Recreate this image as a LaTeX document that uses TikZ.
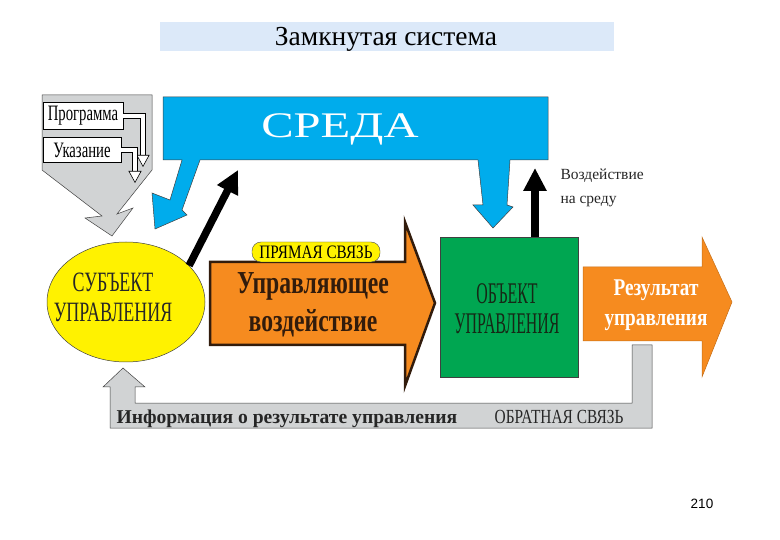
\documentclass[tikz,border=0pt]{standalone}
\usepackage{fontspec}
\setmainfont{Liberation Serif}
\newfontfamily\pagefont{Liberation Sans}
\usepackage{graphicx}
\usepackage{xcolor}
\usetikzlibrary{calc,shapes,positioning,arrows.meta}
\definecolor{sredablue}{RGB}{0,172,236}
\definecolor{subjyellow}{RGB}{255,242,0}
\definecolor{objgreen}{RGB}{0,166,81}
\definecolor{actorange}{RGB}{246,139,31}
\definecolor{fbgrey}{RGB}{209,211,212}
\definecolor{titleband}{RGB}{220,233,249}
\definecolor{darkbrown}{RGB}{50,28,12}
\definecolor{darkgreen}{RGB}{22,40,22}
\newcommand{\narrow}[2]{\scalebox{#1}[1]{#2}}
\tikzset{Outline/.style={draw=black!75,line width=0.5pt},
  FatArrow/.style={line width=7.5pt,-{Triangle[length=23pt,width=22pt]}},
  WhiteArrow/.style={draw=black,line width=0.6pt,double=white,double distance=4.5pt,-{Triangle[length=12pt,width=13pt,fill=white]}},
  WhiteBox/.style={fill=white,draw=black,line width=0.5pt,inner sep=0pt,font=\fontsize{22}{24}\selectfont}}

\begin{document}
\begin{tikzpicture}[x=1pt,y=-1pt]
            \useasboundingbox (0,0) rectangle (780,540);
            \fill[titleband] (160,22) rectangle (614,51);
            \node[font=\fontsize{27.5}{29}\selectfont] (title) at (386,39) {Замкнутая система};
            \filldraw[fill=fbgrey,Outline] (42,95) -- (152,95) -- (152,170) -- (117,214) -- (133,208) -- (112,236) -- (85,218) -- (102,216) -- (42,170) -- cycle;
            \node[WhiteBox,minimum width=80,minimum height=27] (prog) at (83,116) {\narrow{0.67}{Программа}};
            \node[WhiteBox,minimum width=78,minimum height=25] (ukaz) at (82,150) {\narrow{0.67}{Указание}};
            \coordinate (progtip) at (143,167);
            \coordinate (ukaztip) at (135,183);
            \draw[WhiteArrow] (prog.east) -| (progtip);
            \draw[WhiteArrow] (ukaz.east) -| (ukaztip);
            \filldraw[fill=sredablue,Outline] (163,97) -- (548,97) -- (548,160) -- (510,160) -- (507,205) -- (513,207) -- (493,228) -- (473,205) -- (483,205) -- (478,160) -- (200,160) -- (182,210) -- (187,215) -- (155,229) -- (152,193) -- (170,200) -- (182,160) -- (163,160) -- cycle;
            \node[text=white,font=\fontsize{36}{38}\selectfont,xscale=1.35] (sreda) at (340,129) {СРЕДА};
            \node[ellipse,fill=subjyellow,Outline,minimum width=158,minimum height=120,inner sep=0pt] (subj) at (126,302) {};
            \node[font=\fontsize{28}{30}\selectfont,xscale=0.64,align=center,text=black!85] (subjtext) at (113,297) {СУБЪЕКТ\\УПРАВЛЕНИЯ};
            \filldraw[fill=actorange,draw=darkbrown,line width=2.5pt] (210,262) -- (405,262) -- (405,222) -- (435,303) -- (405,386) -- (405,345) -- (210,345) -- cycle;
            \node[draw=black!70,fill=subjyellow,rounded corners=9pt,minimum width=128,minimum height=20,inner sep=0pt,font=\fontsize{19}{20}\selectfont] (pryam) at (316,252) {\narrow{0.8}{ПРЯМАЯ СВЯЗЬ}};
            \node[font=\bfseries\fontsize{32}{38}\selectfont,xscale=0.74,align=center,text=darkbrown] (upr) at (313,305) {Управляющее\\воздействие};
            \node[fill=objgreen,Outline,minimum width=138,minimum height=140,inner sep=0pt] (obj) at (509,307) {};
            \node[font=\fontsize{30}{30}\selectfont,xscale=0.53,align=center,text=darkgreen] (objtext) at (507,309) {ОБЪЕКТ\\УПРАВЛЕНИЯ};
            \filldraw[fill=actorange,draw=actorange!80!black,line width=0.5pt] (583,267) -- (702,267) -- (702,237) -- (732,302) -- (702,377) -- (702,341) -- (583,341) -- cycle;
            \node[font=\bfseries\fontsize{24}{30}\selectfont,xscale=0.8,align=center,text=white] (res) at (656,305) {Результат\\управления};
            \filldraw[fill=fbgrey,Outline] (632,345) -- (652,345) -- (652,428) -- (110,428) -- (110,387) -- (103,387) -- (123,368) -- (145,387) -- (135,387) -- (135,403) -- (632,403) -- cycle;
            \node[anchor=base west,font=\bfseries\fontsize{19.6}{22}\selectfont,text=black!85] (info) at (113,424) {Информация о результате управления};
            \node[anchor=base west,font=\fontsize{20}{22}\selectfont,xscale=0.77,text=black!85] (obrat) at (492,424) {ОБРАТНАЯ СВЯЗЬ};
            \coordinate (envin) at (238,170);
            \coordinate (envout) at (535,168);
            \draw[FatArrow] (subj.30) -- (envin);
            \draw[FatArrow] (obj.north -| envout) -- (envout);
            \node[anchor=west,align=left,font=\fontsize{15.5}{24}\selectfont,text=black!85] (vozd) at (557,188) {Воздействие\\на среду};
            \node[font=\pagefont\fontsize{13.5}{15}\selectfont] (page) at (702,504) {210};
        \end{tikzpicture}
\end{document}
